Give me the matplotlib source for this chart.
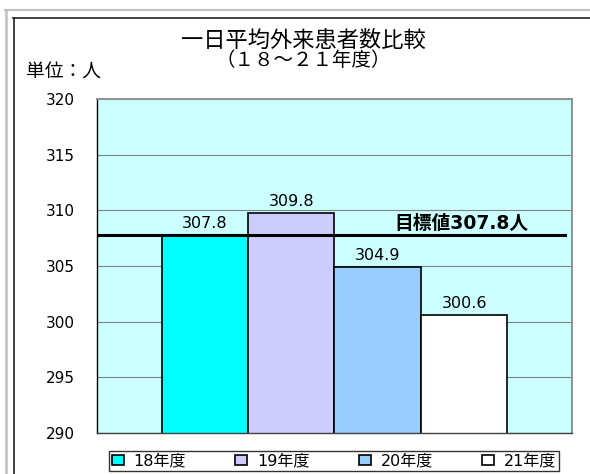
import matplotlib
matplotlib.use("Agg")
import matplotlib.pyplot as plt
from matplotlib.patches import Patch
from matplotlib.lines import Line2D
import matplotlib.transforms as mtransforms
import numpy as np

plt.rcParams['font.family'] = ['DejaVu Sans', 'Noto Sans CJK JP']

# ---- data ----
categories = ["18年度", "19年度", "20年度", "21年度"]
values = [307.8, 309.8, 304.9, 300.6]
bar_colors = ["#00FFFF", "#CCCCFF", "#99CCFF", "#FFFFFF"]
target = 307.8
target_label = "目標値307.8人"
title_line1 = "一日平均外来患者数比較"
title_line2 = "（１８～２１年度）"
unit_label = "単位：人"
yticks = [290, 295, 300, 305, 310, 315, 320]

W, H = 590, 474
fig = plt.figure(figsize=(W / 100, H / 100), dpi=100)

def fx(px):
    return px / W

def fy(py):
    return 1 - py / H

# frame lines (gray outer, black inner)
fig.add_artist(Line2D([fx(5), 1], [fy(9.5), fy(9.5)], color="#C0C0C0", lw=1.6))
fig.add_artist(Line2D([fx(6), fx(6)], [fy(9.5), 0], color="#C0C0C0", lw=1.8))
fig.add_artist(Line2D([fx(13), 1], [fy(18), fy(18)], color="#202020", lw=1.2))
fig.add_artist(Line2D([fx(13.5), fx(13.5)], [fy(18), 0], color="#202020", lw=1.2))

# axes
ax = fig.add_axes([fx(97), fy(433), fx(572) - fx(97), fy(99) - fy(433)])
ax.set_facecolor("#CCFFFF")
x = np.arange(len(categories))
bars = ax.bar(x, values, width=1.0, color=bar_colors, edgecolor="black",
              linewidth=1.2, zorder=2, bottom=0)
ax.set_xlim(-1.246, 4.246)
ax.set_ylim(290, 320)
ax.set_yticks(yticks)
ax.set_yticklabels([str(v) for v in yticks], fontsize=11)
ax.tick_params(axis="y", length=0, pad=16)
ax.set_xticks([])
ax.yaxis.grid(True, color="#808080", lw=0.8, zorder=0)
ax.set_axisbelow(True)
for s in ["top", "right"]:
    ax.spines[s].set_color("#909090")
    ax.spines[s].set_linewidth(1.4)
ax.spines["left"].set_color("black")
ax.spines["left"].set_linewidth(1.0)
ax.spines["bottom"].set_color("#404040")
ax.spines["bottom"].set_linewidth(1.0)

# value labels
for xi, v in zip(x, values):
    ax.annotate(f"{v:.1f}", xy=(xi, v), xytext=(0, 4.8), textcoords="offset points",
                ha="center", va="baseline", fontsize=11.5, zorder=4)

# target line
ax.axhline(target, xmin=0, xmax=0.985, color="black", lw=2.2, zorder=3)
trans = mtransforms.blended_transform_factory(ax.transAxes, ax.transData)
ax.annotate(target_label, xy=(0.767, target), xycoords=trans, xytext=(0, 4),
            textcoords="offset points", ha="center", va="baseline",
            fontsize=13.5, fontweight="bold", zorder=4)

# titles
fig.text(fx(303), fy(40), title_line1, ha="center", va="center", fontsize=16)
fig.text(fx(303), fy(61), title_line2, ha="center", va="center", fontsize=14)
fig.text(fx(26), fy(72), unit_label, ha="left", va="center", fontsize=13.5)

# legend
handles = [Patch(facecolor=c, edgecolor="black", linewidth=1.2) for c in bar_colors]
leg = fig.legend(handles, categories, loc="upper center",
                 bbox_to_anchor=(fx(334), fy(451)), ncol=4, fontsize=11.5,
                 frameon=True, fancybox=False, edgecolor="black",
                 handlelength=0.75, handleheight=0.62, handletextpad=0.6,
                 columnspacing=3.1, borderpad=0.15, borderaxespad=0)
leg.get_frame().set_linewidth(1.0)

fig.savefig("out.png", dpi=100)
